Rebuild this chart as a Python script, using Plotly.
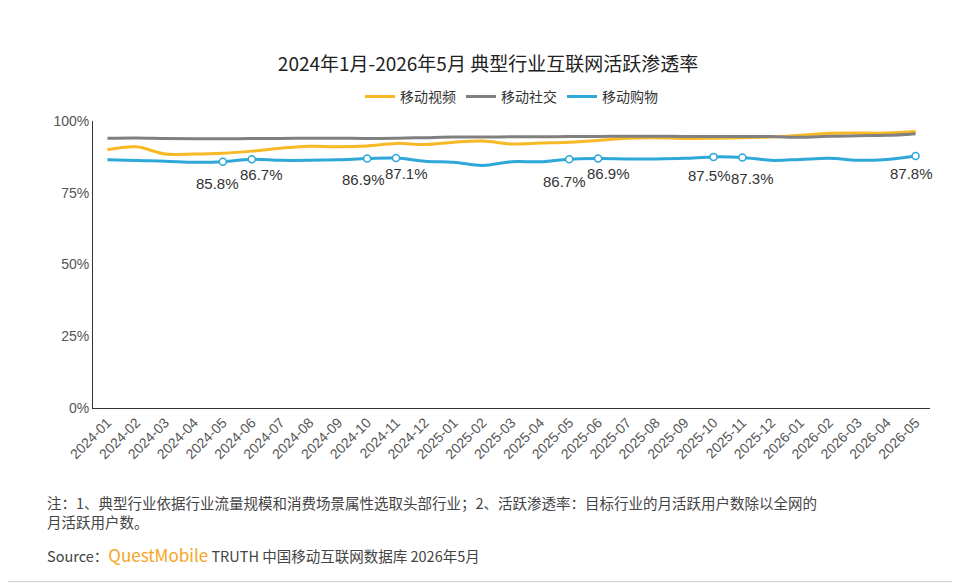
import plotly.graph_objects as go

months = [f"{y}-{m:02d}" for y in (2024, 2025) for m in range(1, 13)] + [f"2026-{m:02d}" for m in range(1, 6)]

video = [90.0, 91.0, 88.5, 88.5, 88.8, 89.5, 90.5, 91.2, 91.0, 91.3, 92.2, 91.8, 92.6, 93.0, 92.0,
         92.3, 92.6, 93.2, 94.0, 94.2, 93.9, 94.0, 94.2, 94.4, 95.0, 95.7, 95.8, 95.8, 96.3]
social = [94.0, 94.1, 93.9, 93.8, 93.8, 93.9, 93.9, 94.0, 94.0, 93.9, 94.0, 94.2, 94.4, 94.4, 94.5,
          94.5, 94.6, 94.6, 94.7, 94.7, 94.6, 94.6, 94.6, 94.6, 94.3, 94.7, 94.9, 95.0, 95.6]
shopping = [86.5, 86.2, 86.0, 85.6, 85.8, 86.7, 86.3, 86.3, 86.5, 86.9, 87.1, 86.0, 85.6, 84.5, 85.8,
            85.8, 86.7, 86.9, 86.8, 86.8, 87.0, 87.5, 87.3, 86.3, 86.6, 87.0, 86.3, 86.6, 87.8]
labeled = ["2024-05", "2024-06", "2024-10", "2024-11", "2025-05", "2025-06", "2025-10", "2025-11", "2026-05"]
y_ticks = [0, 25, 50, 75, 100]

# label offsets (px) so neighbouring labels don't collide
label_dx = [-5, 10, -4, 10, -5, 10, -4, 10, -4]
label_dy = [-22, -15, -21, -15, -22, -15, -19, -21, -17]

FONT = "Noto Sans CJK SC, Microsoft YaHei, sans-serif"
NUM_FONT = "Arial, Liberation Sans, sans-serif"

fig = go.Figure()
fig.add_scatter(x=months, y=video, name="移动视频", mode="lines",
                line=dict(color="#F7B926", width=3, shape="spline"))
fig.add_scatter(x=months, y=social, name="移动社交", mode="lines",
                line=dict(color="#808080", width=3, shape="spline"))
fig.add_scatter(x=months, y=shopping, name="移动购物", mode="lines",
                line=dict(color="#2EA7D9", width=3, shape="spline"))

lx = [m for m in months if m in labeled]
ly = [v for m, v in zip(months, shopping) if m in labeled]
fig.add_scatter(x=lx, y=ly, mode="markers", showlegend=False,
                marker=dict(color="white", size=7, line=dict(color="#2EA7D9", width=1.5)))

annotations = [
    dict(x=x, y=y, text=f"{y:.1f}%", showarrow=False, xshift=dx, yshift=dy,
         font=dict(size=15, color="#333333", family=NUM_FONT))
    for x, y, dx, dy in zip(lx, ly, label_dx, label_dy)
]
annotations += [
    dict(text="注：1、典型行业依据行业流量规模和消费场景属性选取头部行业；2、活跃渗透率：目标行业的月活跃用户数除以全网的<br>月活跃用户数。",
         xref="paper", yref="paper", x=-0.057, y=-0.285, xanchor="left", yanchor="top", align="left",
         showarrow=False, font=dict(size=14.5, color="#444444")),
    dict(text="Source：<span style='color:#F5A623;font-size:17px'>QuestMobile</span> TRUTH 中国移动互联网数据库 2026年5月",
         xref="paper", yref="paper", x=-0.057, y=-0.51, xanchor="left", yanchor="middle", align="left",
         showarrow=False, font=dict(size=14.5, color="#444444")),
]

fig.update_layout(
    width=960, height=584, plot_bgcolor="white", paper_bgcolor="white",
    font=dict(family=FONT, color="#333333"),
    title=dict(text="2024年1月-2026年5月 典型行业互联网活跃渗透率", x=0.5, y=1 - 56 / 584,
               xanchor="center", yanchor="middle", font=dict(size=19, color="#222222")),
    legend=dict(orientation="h", x=0.5, xanchor="center", y=1.084, yanchor="middle",
                font=dict(size=14)),
    margin=dict(l=85, r=38, t=113, b=184),
    xaxis=dict(type="category", tickangle=-45, automargin=False,
               tickfont=dict(size=14, color="#555555", family=NUM_FONT),
               showline=True, linecolor="#333333", ticks="", showgrid=False, range=[-0.5, 28.5]),
    yaxis=dict(range=[0, 100], tickvals=y_ticks, ticktext=[f"{v}%" for v in y_ticks], showgrid=False,
               showline=True, linecolor="#333333", zeroline=False, automargin=False,
               tickfont=dict(size=14, color="#555555", family=NUM_FONT)),
    annotations=annotations,
    shapes=[dict(type="rect", xref="paper", yref="paper", x0=-0.11, x1=1.033, y0=-0.605, y1=1.418,
                 line=dict(color="#cccccc", width=1))],
)

fig.write_html("out.html")
